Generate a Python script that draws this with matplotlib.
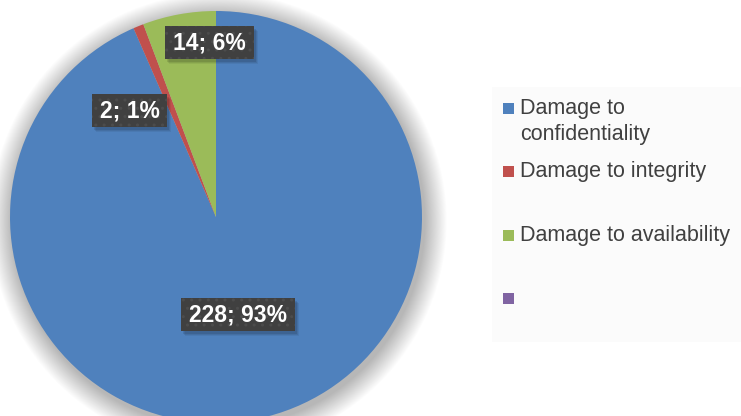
import matplotlib
matplotlib.use("Agg")
import matplotlib.pyplot as plt
from matplotlib.patches import Circle, Rectangle

categories = ["Damage to\nconfidentiality", "Damage to integrity", "Damage to availability", ""]
counts = [228, 2, 14, 0]
colors = ["#4F81BD", "#C0504D", "#9BBB59", "#8064A2"]

# label anchor points (data units, pie radius = 1)
label_pos = [(0.105, -0.475), (-0.42, 0.515), (-0.03, 0.845)]
# legend rows: baseline y in pixels from the top
legend_baselines = [114, 177, 241, 304]

W, H = 741, 416
fig = plt.figure(figsize=(W / 100, H / 100), dpi=100)
fig.patch.set_facecolor("white")
ax = fig.add_axes([0, 0, 1, 1])

cx, cy, r = 216, 217, 206

# soft shadow behind the pie
for k in range(24, 0, -1):
    ax.add_patch(Circle((0.012, -0.02), 1 + k * 0.0045, color="#000000",
                        alpha=0.011, lw=0, zorder=0))

vals = [v for v in counts if v > 0]
ax.pie(vals, colors=colors[:len(vals)], startangle=90, counterclock=False,
       radius=1, center=(0, 0), wedgeprops=dict(linewidth=0), frame=True)
ax.set_xlim(-cx / r, (W - cx) / r)
ax.set_ylim((cy - H) / r, cy / r)
ax.set_aspect("auto")
ax.axis("off")

total = sum(counts)
texts = []
for v, (x, y) in zip(vals, label_pos):
    s = f"{v}; {round(100 * v / total)}%"
    texts.append(ax.text(x, y, s, ha="center", va="center", fontsize=16.5,
                         fontweight="bold", family="Liberation Sans",
                         color="white", zorder=6))

# dark label boxes with a soft drop shadow, sized around the text
fig.canvas.draw()
rend = fig.canvas.get_renderer()
for t in texts:
    bb = t.get_window_extent(rend)
    xc, yc = (bb.x0 + bb.x1) / 2, (bb.y0 + bb.y1) / 2
    bw, bh = bb.width + 16, 33
    for k, a in [(5, 0.06), (4, 0.08), (3, 0.1)]:
        ax.add_patch(Rectangle((xc - bw / 2 + k - 1, yc - bh / 2 - k), bw, bh,
                               transform=None, fc="#000000", ec="none", alpha=a, zorder=4))
    ax.add_patch(Rectangle((xc - bw / 2, yc - bh / 2), bw, bh, transform=None,
                           fc="#404040", ec="#4c4c4c", lw=0, hatch="..", zorder=5))

# legend
fig.patches.append(Rectangle((492 / W, 1 - 342 / H), (W - 492) / W, (342 - 87) / H,
                             transform=fig.transFigure, fc="#fbfbfb", ec="none", zorder=1))
for lab, col, base in zip(categories, colors, legend_baselines):
    fig.patches.append(Rectangle((503 / W, 1 - base / H), 11 / W, 11 / H,
                                 transform=fig.transFigure, fc=col, ec="none", zorder=2))
    for i, line in enumerate(lab.split("\n")):
        fig.text(520 / W, 1 - (base + i * 26) / H, line, ha="left", va="baseline",
                 fontsize=15.5, family="Liberation Sans", color="#404040", zorder=3)

fig.savefig("out.png", dpi=100)
